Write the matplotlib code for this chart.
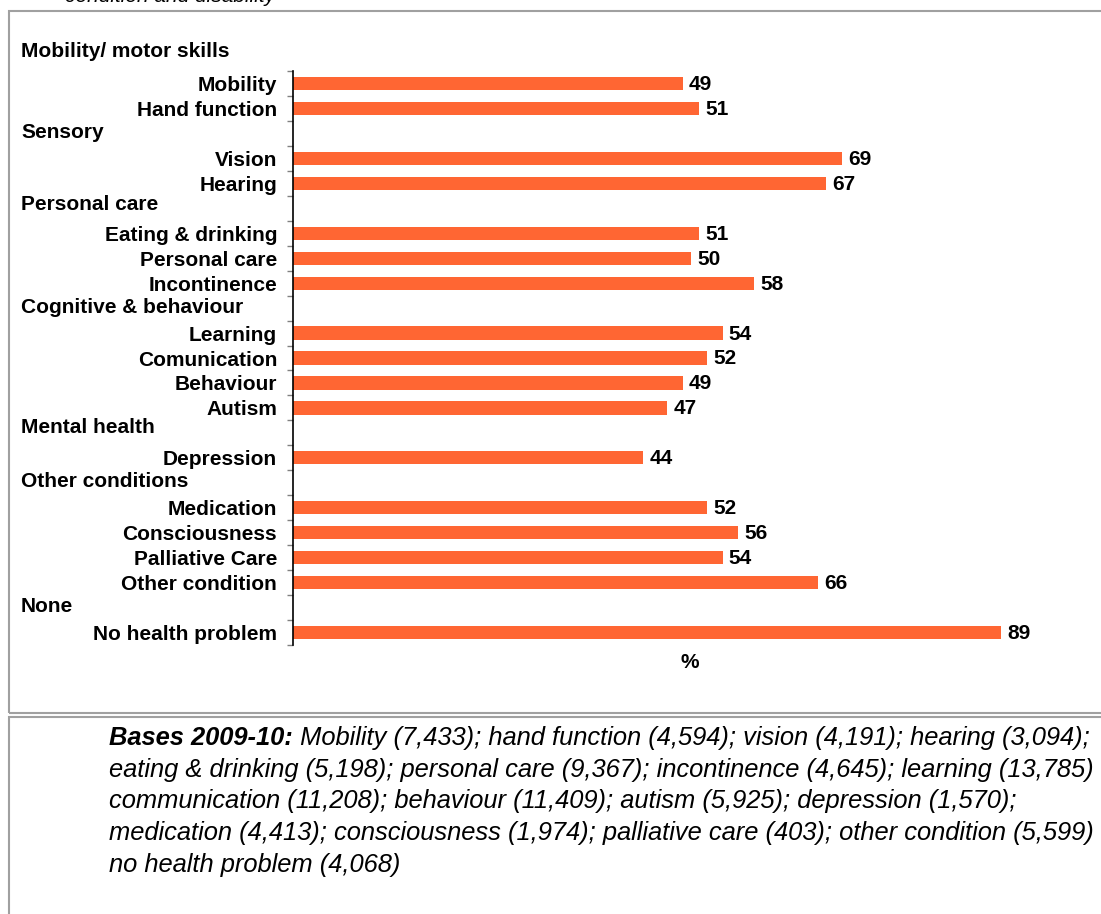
import matplotlib
matplotlib.use("Agg")
import matplotlib.pyplot as plt
from matplotlib.patches import Rectangle
from matplotlib.transforms import blended_transform_factory

# ---- data ----------------------------------------------------------------
# Rows of the chart from top to bottom; None marks the slot used by a group header
row_labels = [
    "Mobility", "Hand function", None,
    "Vision", "Hearing", None,
    "Eating & drinking", "Personal care", "Incontinence", None,
    "Learning", "Comunication", "Behaviour", "Autism", None,
    "Depression", None,
    "Medication", "Consciousness", "Palliative Care", "Other condition", None,
    "No health problem",
]
row_values = [
    49, 51, None,
    69, 67, None,
    51, 50, 58, None,
    54, 52, 49, 47, None,
    44, None,
    52, 56, 54, 66, None,
    89,
]
group_names = [
    "Mobility/ motor skills", "Sensory", "Personal care",
    "Cognitive & behaviour", "Mental health", "Other conditions", "None",
]
group_rows = [-1, 2, 5, 9, 14, 16, 21]

x_label = "%"
title_tail = "condition and disability"
bases_head = "Bases 2009-10:"
bases_lines = [
    " Mobility (7,433); hand function (4,594); vision (4,191); hearing (3,094);",
    "eating & drinking (5,198); personal care (9,367); incontinence (4,645); learning (13,785)",
    "communication (11,208); behaviour (11,409); autism (5,925); depression (1,570);",
    "medication (4,413); consciousness (1,974); palliative care (403); other condition (5,599)",
    "no health problem (4,068)",
]

# ---- figure --------------------------------------------------------------
W, H = 1101, 914
DPI = 100
BAR = "#FF6633"
BOX = "#A0A0A0"
LABEL_FONT = ["Liberation Sans", "DejaVu Sans"]
NOTE_FONT = ["Liberation Sans", "DejaVu Sans"]

fig = plt.figure(figsize=(W / DPI, H / DPI), dpi=DPI)
fig.patch.set_facecolor("white")


def fx(px):
    return px / W


def fy(py):
    return 1 - py / H


# framed panels
fig.add_artist(Rectangle((fx(9), fy(713)), fx(1200), fy(10.5) - fy(713),
                         transform=fig.transFigure, fill=False,
                         edgecolor=BOX, linewidth=1.5))
fig.add_artist(Rectangle((fx(9), fy(1000)), fx(1200), fy(717) - fy(1000),
                         transform=fig.transFigure, fill=False,
                         edgecolor=BOX, linewidth=1.5))

# chart axes
ax_left, ax_right, ax_top, ax_bottom = 293, 1088.5, 71, 645
ax = fig.add_axes([fx(ax_left), fy(ax_bottom), fx(ax_right - ax_left),
                   fy(ax_top) - fy(ax_bottom)])

n = len(row_labels)
bar_rows = [i for i, v in enumerate(row_values) if v is not None]
bar_vals = [row_values[i] for i in bar_rows]
ax.barh(bar_rows, bar_vals, height=0.53, color=BAR, zorder=2)

for r, v in zip(bar_rows, bar_vals):
    ax.annotate(f"{v}", xy=(v, r), xytext=(4.5, -0.7), textcoords="offset points",
                ha="left", va="center", fontsize=15, fontweight="bold",
                family=LABEL_FONT, color="black")

ax.set_xlim(0, 100)
ax.set_ylim(n - 0.5, -0.5)

# tick marks at row boundaries, labels at row centres
ax.set_yticks([i - 0.5 for i in range(n + 1)])
ax.set_yticklabels([])
ax.tick_params(axis="y", which="major", length=6 / 1.389, width=1,
               color="#808080", direction="out")
ax.set_yticks(range(n), minor=True)
ax.set_yticklabels([t if t else "" for t in row_labels], minor=True)
ax.tick_params(axis="y", which="minor", length=0, pad=11.5)
for lab in ax.get_yticklabels(minor=True):
    lab.set_fontsize(15)
    lab.set_fontweight("bold")
    lab.set_family(LABEL_FONT)

ax.set_xticks([])
for side in ("top", "right", "bottom"):
    ax.spines[side].set_visible(False)
ax.spines["left"].set_linewidth(1.2)
ax.spines["left"].set_color("black")

# group headers in the label column (small vertical nudges, in rows)
header_nudge = [-0.27, -0.02, -0.17, -0.04, -0.2, -0.06, -0.05]
label_col = blended_transform_factory(fig.transFigure, ax.transData)
for name, r, dy in zip(group_names, group_rows, header_nudge):
    ax.text(fx(21), r + dy, name, transform=label_col,
            ha="left", va="center", fontsize=15, fontweight="bold",
            family=LABEL_FONT, clip_on=False)

fig.text(fx(690), fy(663), x_label, ha="center", va="center",
         fontsize=15, fontweight="bold", family=LABEL_FONT)

# heading line running off the top edge
fig.text(fx(65), fy(1.5), title_tail, ha="left", va="baseline",
         fontsize=15, style="italic", family=NOTE_FONT)

# notes with sample bases
note_size = 18.4
head = fig.text(fx(109), fy(738), bases_head, ha="left", va="center",
                fontsize=note_size, style="italic", fontweight="bold",
                family=NOTE_FONT)
ax.annotate(bases_lines[0], xy=(1, 0), xycoords=head, ha="left", va="bottom",
            fontsize=note_size, style="italic", family=NOTE_FONT,
            annotation_clip=False)
line_y = [769.5, 801, 833, 865]
for txt, y in zip(bases_lines[1:], line_y):
    fig.text(fx(109), fy(y), txt, ha="left", va="center", fontsize=note_size,
             style="italic", family=NOTE_FONT)

fig.savefig("out.png", dpi=DPI, facecolor="white")
